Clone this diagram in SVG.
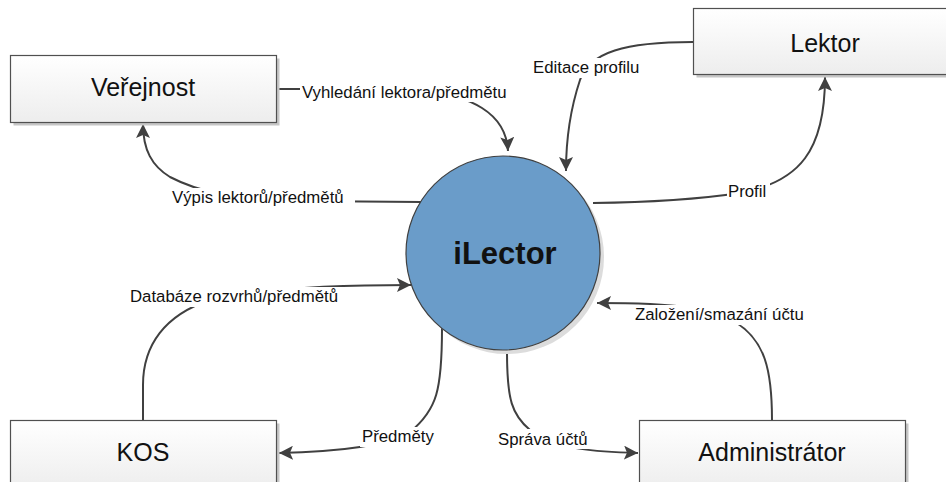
<svg xmlns="http://www.w3.org/2000/svg" width="946" height="482" viewBox="0 0 946 482">
<style>
.box{fill:url(#boxg);stroke:#505050;stroke-width:1.2}
.shadow{fill:#c6c6c6}
.bt{font-family:"Liberation Sans",Arial,sans-serif;font-size:25px;fill:#111;text-anchor:middle}
.lt{font-family:"Liberation Sans",Arial,sans-serif;font-size:16.8px;fill:#111}
.cn{fill:none;stroke:#404040;stroke-width:2}
.lb{fill:#fff}
</style>
<defs>
<linearGradient id="boxg" x1="0" y1="0" x2="0" y2="1">
<stop offset="0" stop-color="#ffffff"/>
<stop offset="1" stop-color="#ededed"/>
</linearGradient>
<marker id="ah" markerUnits="userSpaceOnUse" markerWidth="16" markerHeight="14" refX="14" refY="7" orient="auto">
<path d="M0,0 L14,7 L0,14 L3,7 Z" fill="#404040"/>
</marker>
</defs>
<rect width="946" height="482" fill="#fff"/>

<g id="connectors">
<g id="c-vyhledani">
<path class="cn" d="M277,89 L420,89 C470,96 506,112 508,151" marker-end="url(#ah)"/>
<rect class="lb" x="300" y="82" width="218" height="20"/>
<text class="lt" x="302" y="98">Vyhledání lektora/předmětu</text>
</g>
<g id="c-editace">
<path class="cn" d="M693,42 C625,42 590,52 580,80 C570,110 566,140 566,171" marker-end="url(#ah)"/>
<rect class="lb" x="531" y="58" width="115" height="20"/>
<text class="lt" x="533" y="73">Editace profilu</text>
</g>
<g id="c-profil">
<path class="cn" d="M593,203 Q680,202 740,193 C800,182 825,150 825,77" marker-end="url(#ah)"/>
<rect class="lb" x="727" y="182" width="43" height="19"/>
<text class="lt" x="728" y="197">Profil</text>
</g>
<g id="c-vypis">
<path class="cn" d="M421,202 L300,201 C230,200 195,190 170,177 C152,166 143,150 143,124" marker-end="url(#ah)"/>
<rect class="lb" x="170" y="188" width="185" height="19"/>
<text class="lt" x="172" y="203">Výpis lektorů/předmětů</text>
</g>
<g id="c-databaze">
<path class="cn" d="M143,420 L143,385 C143,345 165,315 210,300 C260,288 330,285 411,285" marker-end="url(#ah)"/>
<rect class="lb" x="128" y="287" width="220" height="20"/>
<text class="lt" x="130" y="302">Databáze rozvrhů/předmětů</text>
</g>
<g id="c-predmety">
<path class="cn" d="M442,328 C442,390 437,410 410,432 C390,445 340,452 279,453" marker-end="url(#ah)"/>
<rect class="lb" x="360" y="427" width="76" height="20"/>
<text class="lt" x="362" y="442">Předměty</text>
</g>
<g id="c-sprava">
<path class="cn" d="M507,352 C507,400 512,415 530,430 C555,450 600,452 638,453" marker-end="url(#ah)"/>
<rect class="lb" x="496" y="429" width="93" height="20"/>
<text class="lt" x="498" y="445">Správa účtů</text>
</g>
<g id="c-zalozeni">
<path class="cn" d="M772,420 C772,370 765,340 735,322 C710,308 680,303 597,303" marker-end="url(#ah)"/>
<rect class="lb" x="633" y="305" width="176" height="20"/>
<text class="lt" x="635" y="320">Založení/smazání účtu</text>
</g>
</g>

<g id="n-verejnost">
<rect class="shadow" x="13.5" y="58.5" width="266" height="67"/>
<rect class="box" x="10.5" y="55.5" width="266" height="67"/>
<text class="bt" x="143" y="96">Veřejnost</text>
</g>
<g id="n-lektor">
<rect class="shadow" x="696.5" y="11.5" width="260" height="66"/>
<rect class="box" x="693.5" y="8.5" width="260" height="66"/>
<text class="bt" x="825" y="52">Lektor</text>
</g>
<g id="n-kos">
<rect class="shadow" x="13.5" y="423.5" width="266" height="70"/>
<rect class="box" x="10.5" y="420.5" width="266" height="70"/>
<text class="bt" x="143" y="461">KOS</text>
</g>
<g id="n-admin">
<rect class="shadow" x="642.5" y="423.5" width="266" height="70"/>
<rect class="box" x="639.5" y="420.5" width="266" height="70"/>
<text class="bt" x="772" y="461">Administrátor</text>
</g>
<g id="n-ilector">
<circle cx="507" cy="257" r="97" fill="#dcdcdc"/>
<circle cx="503" cy="253" r="97" fill="#6a9cc9" stroke="#404040" stroke-width="1.2"/>
<text x="505" y="264" font-family="'Liberation Sans',Arial,sans-serif" font-size="31" font-weight="bold" fill="#111" text-anchor="middle">iLector</text>
</g>
</svg>
